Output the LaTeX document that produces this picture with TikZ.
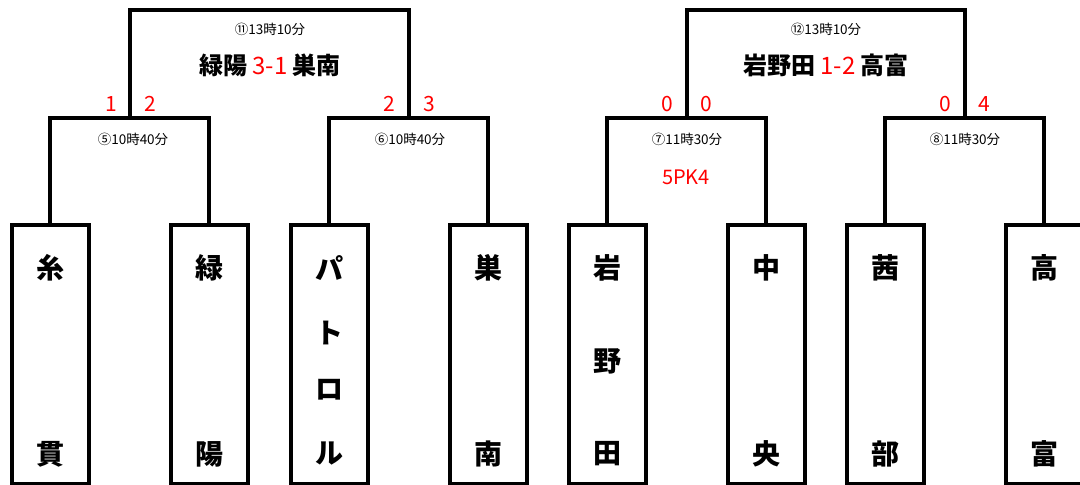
\documentclass[tikz,border=0pt]{standalone}
\usepackage{fontspec}
\setmainfont{Noto Sans CJK JP}
\begin{document}
\begin{tikzpicture}[x=1pt,y=-1pt,
  team/.style={draw,line width=4pt,minimum width=77pt,minimum height=259pt,inner sep=0pt,anchor=north},
  br/.style={line width=4pt,line join=miter},
  ch/.style={font=\bfseries\fontsize{28}{28}\selectfont,inner sep=0pt},
  lbl/.style={font=\fontsize{13.5}{14}\selectfont,inner sep=0pt},
  ttl/.style={font=\bfseries\fontsize{24}{24}\selectfont,inner sep=0pt},
  sc/.style={font=\fontsize{21}{21}\selectfont,text=red,inner sep=0pt},
  pk/.style={font=\fontsize{20}{20}\selectfont,text=red,inner sep=0pt}]
\useasboundingbox (0,0) rectangle (1080,485);
% team boxes
\node[team] (b1) at (50,223) {};
\node[team] (b2) at (209,223) {};
\node[team] (b3) at (329,223) {};
\node[team] (b4) at (488,223) {};
\node[team] (b5) at (607,223) {};
\node[team] (b6) at (766,223) {};
\node[team] (b7) at (885,223) {};
\node[team] (b8) at (1044,223) {};
% team names
\node[ch] (t1a) at (50,268) {糸};
\node[ch] (t1b) at (50,454) {貫};
\node[ch] (t2a) at (209,268) {緑};
\node[ch] (t2b) at (209,454) {陽};
\node[ch] (t3a) at (329,268) {パ};
\node[ch] (t3b) at (329,333) {ト};
\node[ch] (t3c) at (329,390) {ロ};
\node[ch] (t3d) at (329,454) {ル};
\node[ch] (t4a) at (488,268) {巣};
\node[ch] (t4b) at (488,454) {南};
\node[ch] (t5a) at (607,268) {岩};
\node[ch] (t5b) at (607,361) {野};
\node[ch] (t5c) at (607,454) {田};
\node[ch] (t6a) at (766,268) {中};
\node[ch] (t6b) at (766,454) {央};
\node[ch] (t7a) at (885,268) {茜};
\node[ch] (t7b) at (885,454) {部};
\node[ch] (t8a) at (1044,268) {高};
\node[ch] (t8b) at (1044,454) {富};
% bracket joints
\coordinate (m5) at (129.5,118);
\coordinate (m6) at (408.5,118);
\coordinate (m7) at (686.5,118);
\coordinate (m8) at (964.5,118);
\coordinate (m11) at (269,10);
\coordinate (m12) at (825.5,10);
% brackets
\draw[br] (b1.north) |- (m5) -| (b2.north);
\draw[br] (b3.north) |- (m6) -| (b4.north);
\draw[br] (b5.north) |- (m7) -| (b6.north);
\draw[br] (b7.north) |- (m8) -| (b8.north);
\draw[br] (m5) |- (m11) -| (m6);
\draw[br] (m7) |- (m12) -| (m8);
% match labels
\node[lbl] (l11) at (270,29) {⑪13時10分};
\node[ttl] (r11) at (270,65) {緑陽 {\mdseries\color{red}3-1} 巣南};
\node[lbl] (l12) at (826,29) {⑫13時10分};
\node[ttl] (r12) at (826,65) {岩野田 {\mdseries\color{red}1-2} 高富};
\node[lbl] (l5) at (133,139) {⑤10時40分};
\node[lbl] (l6) at (410,139) {⑥10時40分};
\node[lbl] (l7) at (687,139) {⑦11時30分};
\node[lbl] (l8) at (965,139) {⑧11時30分};
\node[pk] (pk7) at (686,177) {5PK4};
% scores
\node[sc] (s1) at (111,104) {1};
\node[sc] (s2) at (150,104) {2};
\node[sc] (s3) at (389,104) {2};
\node[sc] (s4) at (429,104) {3};
\node[sc] (s5) at (667,104) {0};
\node[sc] (s6) at (706,104) {0};
\node[sc] (s7) at (945,104) {0};
\node[sc] (s8) at (984,104) {4};
\end{tikzpicture}
\end{document}
